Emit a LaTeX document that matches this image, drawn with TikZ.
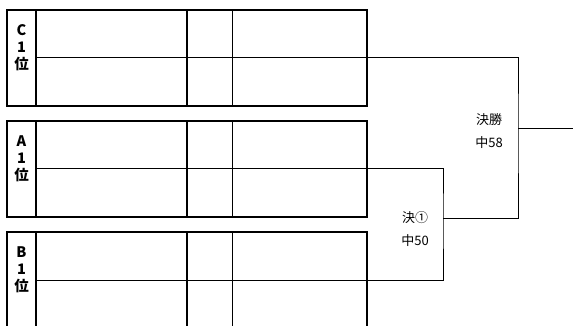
\documentclass[tikz,border=0pt]{standalone}
\usepackage{fontspec}
\newfontfamily\jpfont{Noto Sans CJK JP}
\usepackage{tikz}
\usetikzlibrary{positioning}

\begin{document}
\begin{tikzpicture}[x=1pt, y=-1pt,
    frame/.style={line width=2pt},
    rule/.style={line width=1pt},
    wire/.style={line width=1pt},
    seed/.style={font=\jpfont\bfseries\fontsize{14.5}{17}\selectfont, align=center, inner sep=0pt, anchor=north},
    game/.style={font=\jpfont\fontsize{13}{23}\selectfont, align=center, inner sep=0pt}]
  \useasboundingbox (0,0) rectangle (573,326);
  \clip (0,0) rectangle (573,326);
  % Three seed blocks stacked; each is 96 high, split in two rows at +48
  \foreach \t/\lab/\nm in {10/C/c, 121/A/a, 232/B/b}{
    \draw[frame] (7,\t) rectangle (367,\t+96);
    \draw[frame] (36,\t) -- (36,\t+96);
    \draw[frame] (187,\t) -- (187,\t+96);
    \draw[rule] (232,\t) -- (232,\t+96);
    \draw[rule] (36,\t+48) -- (367,\t+48);
    \node[seed] (\nm-seed) at (21.5,\t+14) {\lab\\1\\位};
    \coordinate (\nm-out) at (367,\t+48);
  }
  % Bracket: A vs B first, winner meets C
  \coordinate (semi) at (443,218);
  \coordinate (final) at (518,129);
  \coordinate (champ) at (573,129);
  \draw[wire] (a-out) -| (semi) |- (b-out);
  \draw[wire] (c-out) -| (final) |- (semi);
  \draw[wire] (final) -- (champ);
  % Match labels
  \node[game] (semi-lab) at (415,229) {決①\\中50};
  \node[game] (final-lab) at (489,131) {決勝\\中58};
\end{tikzpicture}
\end{document}
